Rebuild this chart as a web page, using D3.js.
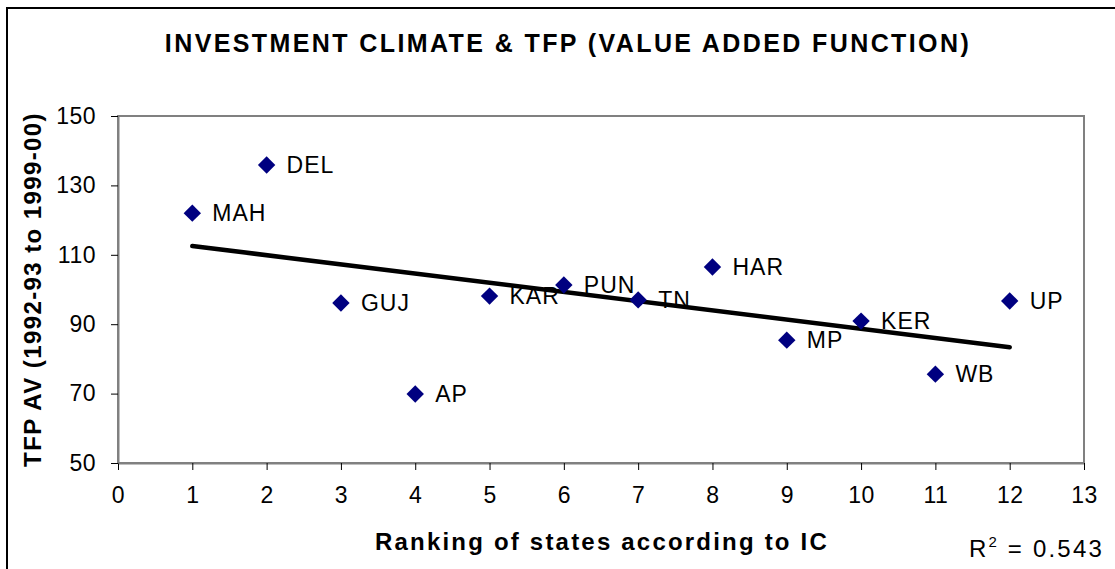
<!DOCTYPE html>
<html>
<head>
<meta charset="utf-8">
<script src="https://cdn.jsdelivr.net/npm/d3@7"></script>
<style>
  body { margin: 0; background: #fff; }
  svg { display: block; }
</style>
</head>
<body>
<div id="chart"></div>
<script>
// states ranked by investment climate, with TFP (value added)
var states = ['MAH', 'DEL', 'GUJ', 'AP', 'KAR', 'PUN', 'TN', 'HAR', 'MP', 'KER', 'WB', 'UP'];
var ranks = [1, 2, 3, 4, 5, 6, 7, 8, 9, 10, 11, 12];
var tfp = [122, 135.9, 96.1, 69.9, 98.1, 101.3, 97.0, 106.5, 85.4, 90.9, 75.6, 96.7];
var xTicks = [0, 1, 2, 3, 4, 5, 6, 7, 8, 9, 10, 11, 12, 13];
var yTicks = [50, 70, 90, 110, 130, 150];

var width = 1115, height = 569;
var margin = {top: 116, right: 31, bottom: 106, left: 118};

var data = states.map((s, i) => ({state: s, rank: ranks[i], tfp: tfp[i]}));

var svg = d3.select('#chart').append('svg')
  .attr('width', width)
  .attr('height', height)
  .attr('font-family', 'Liberation Sans, Arial, sans-serif');

// outer frame (top + left only are visible)
svg.append('path')
  .attr('d', `M7,${height} V8 H${width}`)
  .attr('fill', 'none')
  .attr('stroke', '#000')
  .attr('stroke-width', 2);

var x = d3.scaleLinear()
  .domain([0, 13])
  .range([margin.left, width - margin.right]);

var y = d3.scaleLinear()
  .domain([50, 150])
  .range([height - margin.bottom, margin.top]);

// plot area border
svg.append('rect')
  .attr('x', x(0))
  .attr('y', y(150))
  .attr('width', x(13) - x(0))
  .attr('height', y(50) - y(150))
  .attr('fill', 'none')
  .attr('stroke', '#808080')
  .attr('stroke-width', 2);

var xAxis = g => g
  .attr('transform', `translate(0,${y(50)})`)
  .call(d3.axisBottom(x).tickValues(xTicks).tickSize(7).tickPadding(17).tickSizeOuter(0))
  .call(g => g.select('.domain').attr('stroke', '#808080').attr('stroke-width', 2))
  .call(g => g.selectAll('.tick line').attr('stroke', '#000'))
  .call(g => g.selectAll('.tick text')
    .attr('font-family', 'Liberation Sans, Arial, sans-serif')
    .attr('font-size', '23px')
    .attr('letter-spacing', '0.5px')
    .attr('fill', '#000'));

var yAxis = g => g
  .attr('transform', `translate(${x(0)},0)`)
  .call(d3.axisLeft(y).tickValues(yTicks).tickSize(7).tickPadding(15).tickSizeOuter(0))
  .call(g => g.select('.domain').attr('stroke', '#808080').attr('stroke-width', 2))
  .call(g => g.selectAll('.tick line').attr('stroke', '#000'))
  .call(g => g.selectAll('.tick text')
    .attr('font-family', 'Liberation Sans, Arial, sans-serif')
    .attr('font-size', '23px')
    .attr('letter-spacing', '0.5px')
    .attr('fill', '#000'));

svg.append('g').call(xAxis);
svg.append('g').call(yAxis);

// linear trend line (least squares)
var mx = d3.mean(ranks), my = d3.mean(tfp);
var sxy = d3.sum(data, d => (d.rank - mx) * (d.tfp - my));
var sxx = d3.sum(data, d => (d.rank - mx) * (d.rank - mx));
var slope = sxy / sxx, icpt = my - slope * mx;
var xr = d3.extent(ranks);

svg.append('line')
  .attr('x1', x(xr[0]))
  .attr('y1', y(icpt + slope * xr[0]))
  .attr('x2', x(xr[1]))
  .attr('y2', y(icpt + slope * xr[1]))
  .attr('stroke', '#000')
  .attr('stroke-width', 4.5)
  .attr('stroke-linecap', 'round');

// diamonds
svg.append('g')
  .selectAll('path')
  .data(data)
  .join('path')
  .attr('transform', d => `translate(${x(d.rank)},${y(d.tfp)})`)
  .attr('d', 'M0,-8.7 L8.7,0 L0,8.7 L-8.7,0 Z')
  .attr('fill', '#000080');

// point labels
svg.append('g')
  .selectAll('text')
  .data(data)
  .join('text')
  .attr('x', d => x(d.rank) + 20)
  .attr('y', d => y(d.tfp))
  .attr('dy', '0.36em')
  .attr('font-size', '23px')
  .attr('letter-spacing', '1px')
  .attr('fill', '#000')
  .text(d => d.state);

// titles
svg.append('text')
  .attr('x', 568)
  .attr('y', 52)
  .attr('text-anchor', 'middle')
  .attr('font-size', '25px')
  .attr('font-weight', 'bold')
  .attr('letter-spacing', '2.4px')
  .text('INVESTMENT CLIMATE & TFP (VALUE ADDED FUNCTION)');

svg.append('text')
  .attr('x', 602)
  .attr('y', 550)
  .attr('text-anchor', 'middle')
  .attr('font-size', '24px')
  .attr('font-weight', 'bold')
  .attr('letter-spacing', '2.2px')
  .text('Ranking of states according to IC');

svg.append('text')
  .attr('transform', `translate(41,${(y(50) + y(150)) / 2}) rotate(-90)`)
  .attr('text-anchor', 'middle')
  .attr('font-size', '24px')
  .attr('font-weight', 'bold')
  .attr('letter-spacing', '1.4px')
  .text('TFP AV (1992-93 to 1999-00)');

// R squared annotation
var r2 = svg.append('text')
  .attr('x', 1104)
  .attr('y', 557)
  .attr('text-anchor', 'end')
  .attr('font-size', '24px')
  .attr('letter-spacing', '2.2px')
  .attr('fill', '#000');
r2.append('tspan').text('R');
r2.append('tspan').attr('dy', '-10').attr('font-size', '15px').text('2');
r2.append('tspan').attr('dy', '10').text(' = 0.543');
</script>
</body>
</html>
